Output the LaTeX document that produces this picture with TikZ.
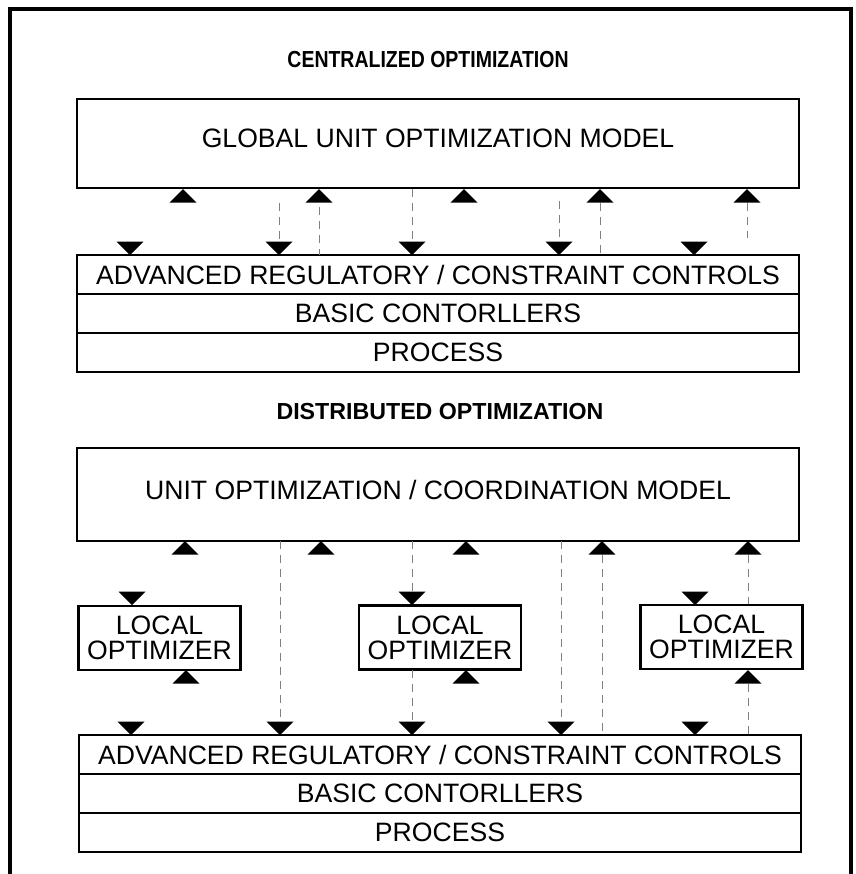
\documentclass[tikz,border=0pt]{standalone}
\usepackage{fontspec}
\setmainfont{Liberation Sans}
\newfontfamily\headfont[FakeStretch=0.84]{Liberation Sans}
\usetikzlibrary{positioning}

\tikzset{
  box/.style={draw, line width=1.3pt, inner sep=0pt, outer sep=0pt, align=center,
    font=\fontsize{13.3}{12.5}\selectfont},
  layer/.style={box, minimum width=361pt, minimum height=19.5pt},
  model/.style={box, minimum width=361pt, text depth=5pt},
  localopt/.style={box, minimum width=81pt, minimum height=32pt},
  heading/.style={font=\fontsize{11.6}{13}\selectfont\bfseries},
  leader/.style={gray, line width=0.5pt, dash pattern=on 4pt off 3pt},
  uptri/.pic={\fill (0,0) -- (-6.75pt,-6.75pt) -- (6.75pt,-6.75pt) -- cycle;},
  downtri/.pic={\fill (0,0) -- (-6.75pt,6.75pt) -- (6.75pt,6.75pt) -- cycle;}
}

\begin{document}
\begin{tikzpicture}[x=0.5pt, y=-0.5pt]
\useasboundingbox (0,0) rectangle (856,874);
\draw[line width=2pt] (10,890) -- (10,9) -- (851,9) -- (851,890);

% centralized
\node[heading, font=\headfont\fontsize{11.6}{13}\selectfont\bfseries] (ctitle) at (428,60) {CENTRALIZED OPTIMIZATION};
\node[model, minimum height=44.5pt] (gmodel) at (438,143.5) {GLOBAL UNIT OPTIMIZATION MODEL};
\node[layer] (cadv) at (438,274.5) {ADVANCED REGULATORY / CONSTRAINT CONTROLS};
\node[layer, below=0pt of cadv] (cbasic) {BASIC CONTORLLERS};
\node[layer, below=0pt of cbasic] (cproc) {PROCESS};

\foreach \x in {183,319,464,600,747} \pic at (\x,189) {uptri};
\foreach \x in {130,279,412,559,694} \pic at (\x,255) {downtri};

\draw[leader] (279,203) -- (279,241);
\draw[leader] (319,207) -- (319,255);
\draw[leader] (412,189) -- (412,241);
\draw[leader] (559,201) -- (559,241);
\draw[leader] (600,203) -- (600,255);
\draw[leader] (747,203) -- (747,238);

% distributed
\node[heading] (dtitle) at (440,412) {DISTRIBUTED OPTIMIZATION};
\node[model, minimum height=46.5pt] (umodel) at (438,494.5) {UNIT OPTIMIZATION / COORDINATION MODEL};

\node[localopt] (lopt1) at (159.5,638) {LOCAL\\OPTIMIZER};
\node[localopt] (lopt2) at (440,637.5) {LOCAL\\OPTIMIZER};
\node[localopt] (lopt3) at (721.5,637) {LOCAL\\OPTIMIZER};

\node[layer] (dadv) at (440,754.5) {ADVANCED REGULATORY / CONSTRAINT CONTROLS};
\node[layer, below=0pt of dadv] (dbasic) {BASIC CONTORLLERS};
\node[layer, below=0pt of dbasic] (dproc) {PROCESS};

\foreach \x in {185,321,466,602,748} \pic at (\x,541) {uptri};
\foreach \x in {132,412,695} \pic at (\x,605) {downtri};
\foreach \x in {186,466,748} \pic at (\x,670) {uptri};
\foreach \x in {131,280,412,561,695} \pic at (\x,735) {downtri};

\draw[leader] (280,541) -- (280,722);
\draw[leader] (412,541) -- (412,592);
\draw[leader] (412,670) -- (412,722);
\draw[leader] (561,541) -- (561,722);
\draw[leader] (602,555) -- (602,735);
\draw[leader] (748,555) -- (748,604);
\draw[leader] (748,684) -- (748,735);
\end{tikzpicture}
\end{document}
